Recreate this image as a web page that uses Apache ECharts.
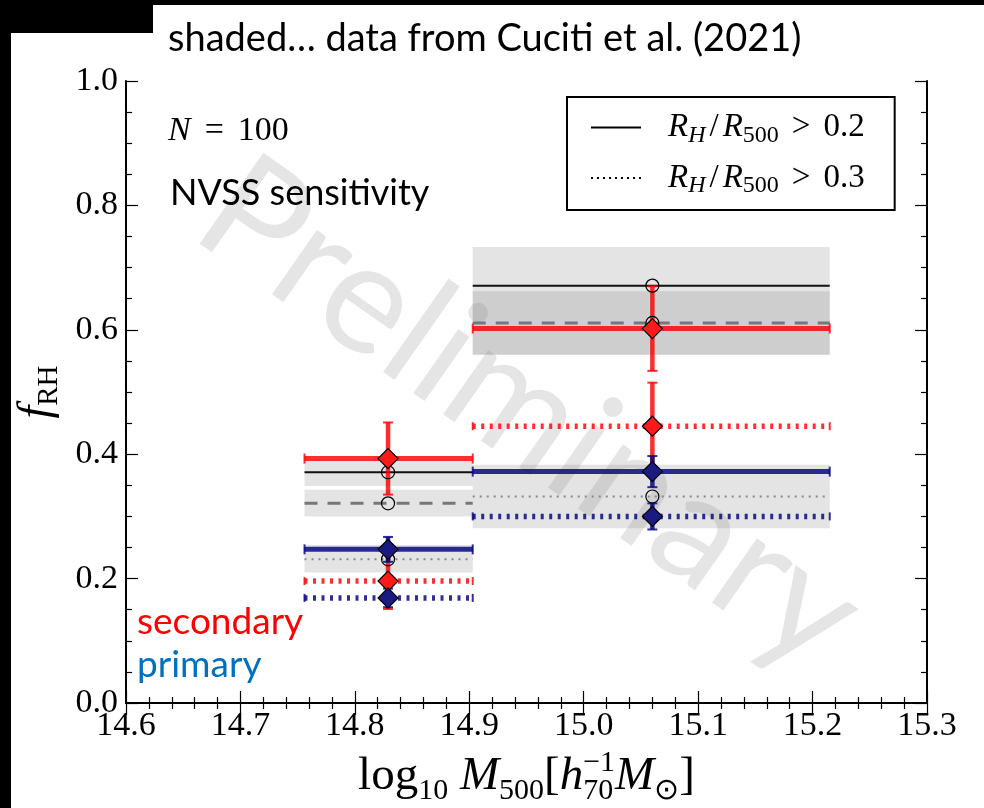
<!DOCTYPE html>
<html><head><meta charset="utf-8">
<script src="https://cdn.jsdelivr.net/npm/echarts@6/dist/echarts.min.js"></script>
<style>html,body{margin:0;padding:0;background:#fff}#c{width:984px;height:808px}</style>
</head><body><div id="c"></div>
<script>
// ---------------- data ----------------
const binLo = [14.756, 14.903];
const binHi = [14.903, 15.215];
const binCenter = [14.829, 15.06];
// secondary (red)
const secAll = [0.393, 0.602];
const secAllErr = [0.058, 0.068];
const secLarge = [0.196, 0.445];
const secLargeErr = [0.045, 0.070];
// primary (blue)
const priAll = [0.247, 0.372];
const priAllErr = [0.020, 0.025];
const priLarge = [0.169, 0.300];
const priLargeErr = [0.015, 0.021];
// Cuciti et al. (2021), shaded
const cucAll = [0.371, 0.671];
const cucAllLo = [0.349, 0.560];
const cucAllHi = [0.390, 0.733];
const cucDashed = [0.321, 0.611];
const cucDashedLo = [0.300, 0.560];
const cucDashedHi = [0.343, 0.662];
const cucLarge = [0.231, 0.332];
const cucLargeLo = [0.210, 0.281];
const cucLargeHi = [0.254, 0.383];
const xMin = 14.6, xMax = 15.3, xStep = 0.1;
const yMin = 0.0, yMax = 1.0, yStep = 0.2;

// ---------------- helpers ----------------
const RED = 'rgba(255,0,0,0.82)';
const BLUE = 'rgba(0,0,128,0.82)';
const SERIF = 'Liberation Serif';

function bandSeries(lo, hi, z) {
  return {
    type: 'custom', z: z, silent: true,
    data: binLo.map((b, i) => [b, binHi[i], lo[i], hi[i]]),
    renderItem: (params, api) => {
      const p1 = api.coord([api.value(0), api.value(3)]);
      const p2 = api.coord([api.value(1), api.value(2)]);
      return { type: 'rect', shape: { x: p1[0], y: p1[1], width: p2[0] - p1[0], height: p2[1] - p1[1] },
        style: { fill: 'rgba(128,128,128,0.21)' } };
    }
  };
}
function hLineSeries(vals, color, width, dash, z) {
  return {
    type: 'custom', z: z, silent: true,
    data: binLo.map((b, i) => [b, binHi[i], vals[i]]),
    renderItem: (params, api) => {
      const a = api.coord([api.value(0), api.value(2)]);
      const b = api.coord([api.value(1), api.value(2)]);
      return { type: 'line', shape: { x1: a[0], y1: a[1], x2: b[0], y2: b[1] },
        style: { stroke: color, lineWidth: width, lineDash: dash } };
    }
  };
}
function errSeries(vals, errs, color, dash, z) {
  return {
    type: 'custom', z: z, silent: true,
    data: binLo.map((b, i) => [b, binHi[i], binCenter[i], vals[i], errs[i]]),
    renderItem: (params, api) => {
      const a = api.coord([api.value(0), api.value(3)]);
      const b = api.coord([api.value(1), api.value(3)]);
      const t = api.coord([api.value(2), api.value(3) + api.value(4)]);
      const d = api.coord([api.value(2), api.value(3) - api.value(4)]);
      const capH = dash ? 4 : 5, capW = 5;
      const st = (w, ld) => ({ stroke: color, lineWidth: w, lineDash: ld || null });
      return { type: 'group', children: [
        { type: 'line', shape: { x1: a[0], y1: a[1], x2: b[0], y2: b[1] }, style: st(dash ? 5.5 : 5, dash) },
        { type: 'line', shape: { x1: a[0], y1: a[1] - capH, x2: a[0], y2: a[1] + capH }, style: st(2) },
        { type: 'line', shape: { x1: b[0], y1: b[1] - capH, x2: b[0], y2: b[1] + capH }, style: st(2) },
        { type: 'line', shape: { x1: t[0], y1: t[1], x2: d[0], y2: d[1] }, style: st(4.5) },
        { type: 'line', shape: { x1: t[0] - capW, y1: t[1], x2: t[0] + capW, y2: t[1] }, style: st(2) },
        { type: 'line', shape: { x1: d[0] - capW, y1: d[1], x2: d[0] + capW, y2: d[1] }, style: st(2) }
      ] };
    }
  };
}
function markerSeries(vals, symbol, size, fill, z) {
  return {
    type: 'scatter', z: z, silent: true, symbol: symbol, symbolSize: size,
    data: binCenter.map((c, i) => [c, vals[i]]),
    itemStyle: { color: fill, borderColor: '#000', borderWidth: 1.2, opacity: 1 }
  };
}

const chart = echarts.init(document.getElementById('c'), null, { renderer: 'canvas' });

const richName = {
  rm: { fontFamily: SERIF, fontSize: 47, lineHeight: 58, color: '#000' },
  it: { fontFamily: SERIF, fontStyle: 'italic', fontSize: 47, lineHeight: 58, color: '#000' },
  sub: { fontFamily: SERIF, fontSize: 30, verticalAlign: 'bottom', color: '#000' },
  sup: { fontFamily: SERIF, fontSize: 30, verticalAlign: 'top', color: '#000', padding: [0, 0, 0, -30] }
};
const legendRich = {
  it: { fontFamily: SERIF, fontStyle: 'italic', fontSize: 33, lineHeight: 40, color: '#000' },
  rm: { fontFamily: SERIF, fontSize: 33, lineHeight: 40, color: '#000' },
  sl: { fontFamily: SERIF, fontSize: 33, lineHeight: 40, color: '#000', padding: [0, 4, 0, 4] },
  gt: { fontFamily: SERIF, fontSize: 33, lineHeight: 40, color: '#000', padding: [0, 13, 0, 13] },
  sit: { fontFamily: SERIF, fontStyle: 'italic', fontSize: 24, verticalAlign: 'bottom', color: '#000' },
  sub: { fontFamily: SERIF, fontSize: 24, verticalAlign: 'bottom', color: '#000' }
};
const legendLabels = { 'gt02': '0.2', 'gt03': '0.3' };

const axisCommon = {
  type: 'value', splitLine: { show: false },
  axisLine: { show: true, lineStyle: { color: '#000', width: 2 } },
  axisTick: { show: true, inside: true, length: 12, lineStyle: { color: '#000', width: 1.2 } },
  minorTick: { show: true, length: 6, lineStyle: { color: '#000', width: 1.2 } }
};

chart.setOption({
  backgroundColor: '#fff',
  animation: false,
  title: {
    text: 'shaded\u2026 data from Cuciti et al. (2021)',
    left: 168, top: 20, padding: 0,
    textStyle: { fontFamily: 'Lato', fontWeight: 'normal', fontSize: 38, color: '#000' }
  },
  grid: { left: 126, right: 57, top: 81, bottom: 105, outerBoundsMode: 'none', show: false },
  legend: {
    left: 567, top: 97, orient: 'vertical', padding: [14, 30, 12, 23], itemGap: 14,
    itemWidth: 50, itemHeight: 14, borderColor: '#000', borderWidth: 2, borderRadius: 0,
    backgroundColor: '#fff', selectedMode: false, z: 10,
    itemStyle: { opacity: 0 },
    data: ['gt02', 'gt03'],
    formatter: n => '{it|R}{sit|H}{sl|/}{it|R}{sub|500}{gt|>}{rm|' + legendLabels[n] + '}',
    textStyle: { padding: [0, 0, 0, 22], rich: legendRich }
  },
  xAxis: [
    Object.assign({}, axisCommon, {
      min: xMin, max: xMax, interval: xStep, position: 'bottom',
      minorTick: Object.assign({}, axisCommon.minorTick, { splitNumber: 5 }),
      axisLabel: { formatter: v => v.toFixed(1), fontFamily: SERIF, fontSize: 34, color: '#000', margin: 6 },
      name: '{rm|log}{sub|10}{it| M}{sub|500}{rm|[}{it|h}{sub|70}{sup|\u22121}{it|M}{sub|\u2299}{rm|]}',
      nameLocation: 'middle', nameGap: 33,
      nameTextStyle: { rich: richName }
    }),
    Object.assign({}, axisCommon, {
      min: xMin, max: xMax, interval: xStep, position: 'top',
      minorTick: Object.assign({}, axisCommon.minorTick, { splitNumber: 5 }),
      axisLabel: { show: false }
    })
  ],
  yAxis: [
    Object.assign({}, axisCommon, {
      min: yMin, max: yMax, interval: yStep, position: 'left',
      minorTick: Object.assign({}, axisCommon.minorTick, { splitNumber: 4 }),
      axisLabel: { formatter: v => v.toFixed(1), fontFamily: SERIF, fontSize: 34, color: '#000', margin: 8 },
      name: '{it|f}{sub|RH}', nameLocation: 'middle', nameGap: 62, nameRotate: 90,
      nameTextStyle: { rich: {
        it: { fontFamily: SERIF, fontStyle: 'italic', fontSize: 46, lineHeight: 54, color: '#000' },
        sub: { fontFamily: SERIF, fontSize: 29, verticalAlign: 'bottom', color: '#000' } } }
    }),
    Object.assign({}, axisCommon, {
      min: yMin, max: yMax, interval: yStep, position: 'right',
      minorTick: Object.assign({}, axisCommon.minorTick, { splitNumber: 4 }),
      axisLabel: { show: false }
    })
  ],
  graphic: [
    // black framing strips of the screenshot
    { type: 'rect', shape: { x: 0, y: 0, width: 984, height: 5 }, style: { fill: '#000' }, z: 100 },
    { type: 'rect', shape: { x: 0, y: 0, width: 153, height: 33 }, style: { fill: '#000' }, z: 100 },
    { type: 'rect', shape: { x: 0, y: 0, width: 11, height: 808 }, style: { fill: '#000' }, z: 100 },
    // watermark
    { type: 'text', x: 530, y: 414, rotation: -35 * Math.PI / 180, z: 1, silent: true,
      style: { text: 'Preliminary', fontFamily: 'Lato', fontSize: 155, fill: 'rgba(0,0,0,0.10)',
        align: 'center', verticalAlign: 'middle' } },
    { type: 'text', x: 168, y: 131, z: 20,
      style: { text: '{it|N}{eq|=}{rm|100}', verticalAlign: 'middle',
        rich: { it: { fontFamily: SERIF, fontStyle: 'italic', fontSize: 34 },
                eq: { fontFamily: SERIF, fontSize: 34, padding: [0, 14, 0, 14] },
                rm: { fontFamily: SERIF, fontSize: 34 } } } },
    { type: 'text', x: 170, y: 193, z: 20,
      style: { text: 'NVSS sensitivity', fontFamily: 'Lato', fontSize: 36, fill: '#000', verticalAlign: 'middle' } },
    { type: 'text', x: 137, y: 622, z: 20,
      style: { text: 'secondary', fontFamily: 'Lato', fontSize: 37, fill: '#ff0000', verticalAlign: 'middle' } },
    { type: 'text', x: 137, y: 665, z: 20,
      style: { text: 'primary', fontFamily: 'Lato', fontSize: 37, fill: '#0070c0', verticalAlign: 'middle' } }
  ],
  series: [
    { type: 'line', name: 'gt02', data: [], symbol: 'none', lineStyle: { color: '#000', width: 2, type: 'solid' }, itemStyle: { color: '#000' } },
    { type: 'line', name: 'gt03', data: [], symbol: 'none', lineStyle: { color: '#000', width: 1.5, type: [2, 4] }, itemStyle: { color: '#000' } },
    bandSeries(cucAllLo, cucAllHi, 2),
    bandSeries(cucDashedLo, cucDashedHi, 2),
    bandSeries(cucLargeLo, cucLargeHi, 2),
    hLineSeries(cucAll, '#111', 2, null, 3),
    hLineSeries(cucDashed, '#777', 3, [13, 10], 3),
    hLineSeries(cucLarge, '#888', 2, [2, 5], 3),
    errSeries(secAll, secAllErr, RED, null, 4),
    errSeries(secLarge, secLargeErr, RED, [3, 5.5], 4),
    errSeries(priAll, priAllErr, BLUE, null, 5),
    errSeries(priLarge, priLargeErr, BLUE, [3, 5.5], 5),
    markerSeries(cucAll, 'circle', 13, 'rgba(0,0,0,0)', 6),
    markerSeries(cucDashed, 'circle', 13, 'rgba(0,0,0,0)', 6),
    markerSeries(cucLarge, 'circle', 13, 'rgba(0,0,0,0)', 6),
    markerSeries(secAll, 'diamond', 20, '#ff1a1a', 7),
    markerSeries(secLarge, 'diamond', 20, '#ff1a1a', 7),
    markerSeries(priAll, 'diamond', 20, '#1a1a80', 8),
    markerSeries(priLarge, 'diamond', 20, '#1a1a80', 8)
  ]
});
</script></body></html>
